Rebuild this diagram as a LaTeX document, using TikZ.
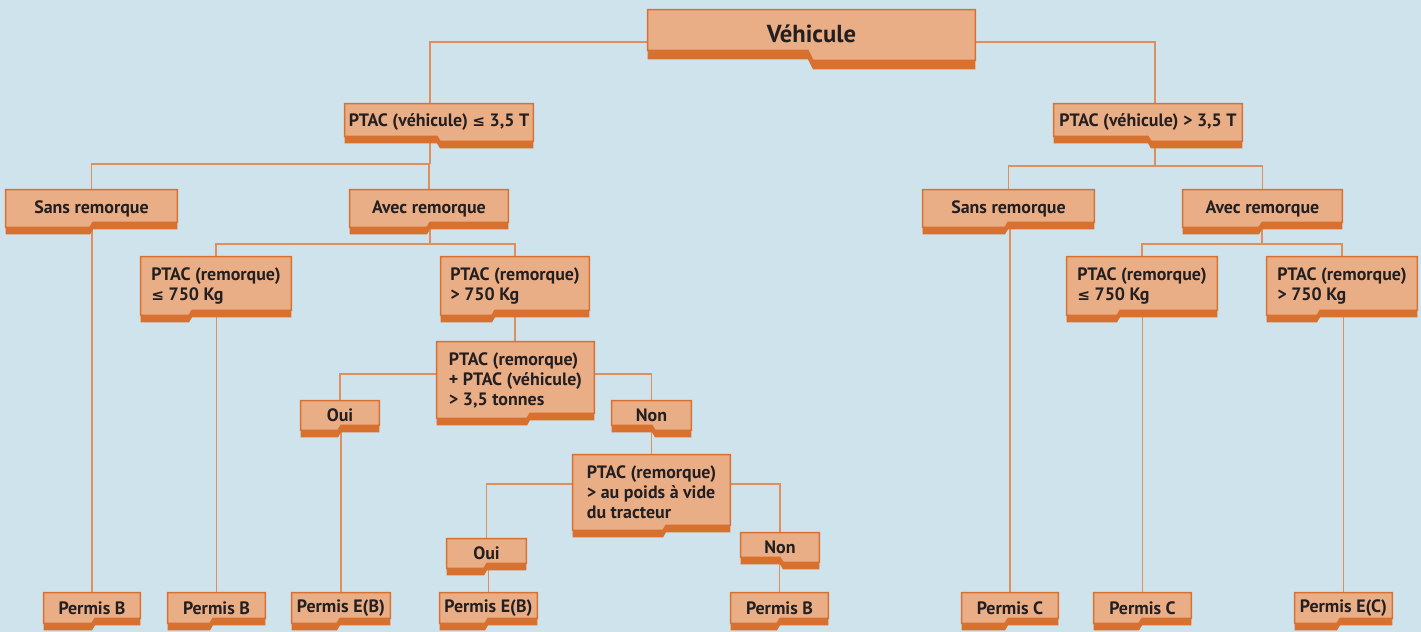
\documentclass[tikz,border=0pt]{standalone}
\usepackage{fontspec}
\setmainfont{PT Sans}
\newfontfamily\dejavu{DejaVu Sans}[Scale=0.85]
\usetikzlibrary{calc,backgrounds}
\definecolor{bgblue}{RGB}{207,227,236}
\definecolor{tabfill}{RGB}{234,174,134}
\definecolor{tabdark}{RGB}{216,112,48}
\definecolor{linkc}{RGB}{224,142,92}
\definecolor{txt}{RGB}{35,31,32}
\newcommand\lesym{{\dejavu ≤}}
\tikzset{
  box/.style={font=\bfseries\fontsize{10.2}{11.4}\selectfont, text=txt, align=left, inner sep=0pt},
  wh/.style 2 args={minimum width=#1*0.02cm, minimum height=#2*0.02cm},
  link/.style={draw=linkc, line width=0.8pt},
  tabbody/.style={fill=tabfill, draw=tabdark, line width=0.8pt}
}
\def\tabstep{5}
\def\tabband{7}
\def\tabslant{3}
% box outline, deeper on the right
\newcommand\tabR[2]{%
  \coordinate (sx) at (#2,0);
  \fill[tabdark] ($(#1.north west)+(0,\tabband)$) -- ($(#1.north east)+(0,\tabband)$)
    -- ($(#1.south east)+(0,\tabband)$) -- ($(sx |- #1.south)+(\tabslant,\tabband)$)
    -- ($(sx |- #1.south)+(0,\tabband-\tabstep)$) -- ($(#1.south west)+(0,\tabband-\tabstep)$) -- cycle;
  \filldraw[tabbody] (#1.north west) -- (#1.north east) -- (#1.south east)
    -- ($(sx |- #1.south)+(\tabslant,0)$) -- ($(sx |- #1.south)+(0,-\tabstep)$)
    -- ($(#1.south west)+(0,-\tabstep)$) -- cycle;}
% box outline, deeper on the left
\newcommand\tabL[2]{%
  \coordinate (sx) at (#2,0);
  \fill[tabdark] ($(#1.north west)+(0,\tabband)$) -- ($(#1.north east)+(0,\tabband)$)
    -- ($(#1.south east)+(0,\tabband-\tabstep)$) -- ($(sx |- #1.south)+(0,\tabband-\tabstep)$)
    -- ($(sx |- #1.south)+(-\tabslant,\tabband)$) -- ($(#1.south west)+(0,\tabband)$) -- cycle;
  \filldraw[tabbody] (#1.north west) -- (#1.north east) -- ($(#1.south east)+(0,-\tabstep)$)
    -- ($(sx |- #1.south)+(0,-\tabstep)$) -- ($(sx |- #1.south)+(-\tabslant,0)$)
    -- (#1.south west) -- cycle;}
\begin{document}
\begin{tikzpicture}[x=0.02cm,y=-0.02cm]
\useasboundingbox (0,0) rectangle (1421,632);

\node[box, wh={327}{50}, font=\bfseries\fontsize{14}{16}\selectfont] (veh) at (811.5,35) {\raisebox{0.06cm}{Véhicule}};

\node[box, wh={188}{37}] (ptacA) at (439,122.5) {PTAC (véhicule) \lesym{} 3,5 T};
\node[box, wh={188}{37}] (ptacB) at (1148,122.5) {PTAC (véhicule) > 3,5 T};

\node[box, wh={171}{37}] (sansA) at (91.5,208.5) {Sans remorque};
\node[box, wh={158}{37}] (avecA) at (429,208.5) {Avec remorque};
\node[box, wh={171}{37}] (sansB) at (1008.5,208.5) {Sans remorque};
\node[box, wh={159}{37}] (avecB) at (1262.5,208.5) {Avec remorque};

\node[box, wh={150}{58}] (remA1) at (216,286) {PTAC (remorque)\\\lesym{} 750 Kg};
\node[box, wh={148}{58}] (remA2) at (515,286) {PTAC (remorque)\\> 750 Kg};
\node[box, wh={150}{58}] (remB1) at (1142,286) {PTAC (remorque)\\\lesym{} 750 Kg};
\node[box, wh={150}{58}] (remB2) at (1342,286) {PTAC (remorque)\\> 750 Kg};

\node[box, wh={157}{76}] (pp) at (515.5,380) {PTAC (remorque)\\+ PTAC (véhicule)\\> 3,5 tonnes};
\node[box, wh={78}{29}] (ouiA) at (340,415.5) {Oui};
\node[box, wh={79}{29}] (nonA) at (651.5,415.5) {Non};

\node[box, wh={157}{75}] (pq) at (651.5,492.5) {PTAC (remorque)\\> au poids à vide\\du tracteur};
\node[box, wh={79}{29}] (ouiB) at (486.5,553.5) {Oui};
\node[box, wh={78}{29}] (nonB) at (780,547.5) {Non};

\node[box, wh={96}{30}] (permB1) at (92,608) {Permis B};
\node[box, wh={97}{30}] (permB2) at (216.5,608) {Permis B};
\node[box, wh={98}{30}] (permEB1) at (341,608) {Permis E(B)};
\node[box, wh={97}{30}] (permEB2) at (488.5,608) {Permis E(B)};
\node[box, wh={97}{30}] (permB3) at (779.5,608) {Permis B};
\node[box, wh={96}{30}] (permC1) at (1010,608) {Permis C};
\node[box, wh={97}{30}] (permC2) at (1142.5,608) {Permis C};
\node[box, wh={97}{30}] (permEC) at (1343.5,608) {Permis E(C)};

\coordinate (f0) at (812,42);
\coordinate (fA) at (430,164);
\coordinate (fB) at (1155,166);
\coordinate (fA2) at (430,244);
\coordinate (fB2) at (1262,244);
\coordinate (fP) at (515,374);
\coordinate (fQ) at (652,484);

\begin{scope}[on background layer]
\fill[bgblue] (0,0) rectangle (1421,632);

\draw[link] (fA |- ptacA.north) |- (f0) -| (fB |- ptacB.north);
\draw[link] (fA |- ptacA.center) -- (fA);
\draw[link] (sansA.north) |- (fA) -| (avecA.north);
\draw[link] (fB |- ptacB.center) -- (fB);
\draw[link] (sansB.north) |- (fB) -| (avecB.north);
\draw[link] (fA2 |- avecA.center) -- (fA2);
\draw[link] (remA1.north) |- (fA2) -| (remA2.north);
\draw[link] (fB2 |- avecB.center) -- (fB2);
\draw[link] (remB1.north) |- (fB2) -| (remB2.north);
\draw[link] (remA2) -- (remA2 |- pp.north);
\draw[link] (ouiA.north) |- (fP) -| (nonA.north);
\draw[link] (nonA) -- (nonA |- pq.north);
\draw[link] (ouiB.north) |- (fQ) -| (nonB.north);
\draw[link] (permB1.north) -- (permB1 |- sansA.center);
\draw[link] (permB2.north) -- (permB2 |- remA1.center);
\draw[link] (permEB1.north) -- (permEB1 |- ouiA.center);
\draw[link] (permEB2.north) -- (permEB2 |- ouiB.center);
\draw[link] (permB3.north) -- (permB3 |- nonB.center);
\draw[link] (permC1.north) -- (permC1 |- sansB.center);
\draw[link] (permC2.north) -- (permC2 |- remB1.center);
\draw[link] (permEC.north) -- (permEC |- remB2.center);

{\def\tabstep{10}\def\tabband{9}\def\tabslant{5}\tabR{veh}{808}}
\tabR{ptacA}{437}
\tabR{ptacB}{1148}
\tabL{sansA}{93}
\tabL{avecA}{430}
\tabL{sansB}{1008}
\tabL{avecB}{1262}
\tabL{remA1}{192}
\tabL{remA2}{495}
\tabL{remB1}{1120}
\tabL{remB2}{1320}
\tabL{pp}{530}
\tabL{pq}{666}
\tabL{ouiA}{341}
\tabR{nonA}{652}
\tabL{ouiB}{487}
\tabR{nonB}{780}
\tabL{permB1}{95}
\tabL{permB2}{213}
\tabL{permEB1}{340}
\tabL{permEB2}{488}
\tabL{permB3}{780}
\tabL{permC1}{1008}
\tabL{permC2}{1142}
\tabL{permEC}{1340}
\end{scope}
\end{tikzpicture}
\end{document}
